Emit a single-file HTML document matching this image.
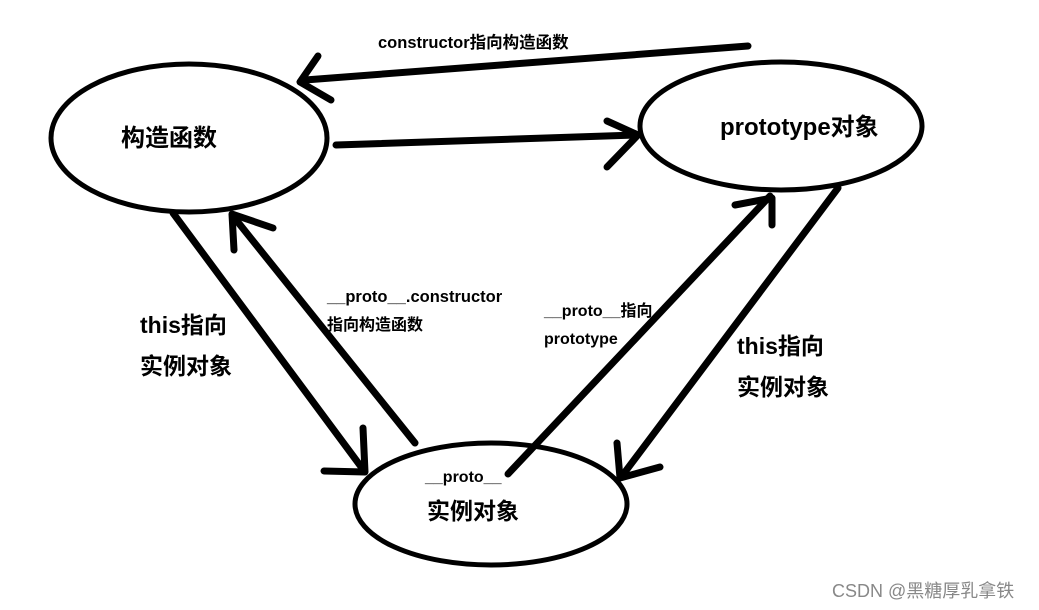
<!DOCTYPE html>
<html><head><meta charset="utf-8"><style>
html,body{margin:0;padding:0;background:#fff;}
svg{display:block;}
text{font-family:"Liberation Sans","Noto Sans CJK SC",sans-serif;font-weight:bold;fill:#000;}
</style></head><body>
<svg width="1039" height="610" viewBox="0 0 1039 610" xmlns="http://www.w3.org/2000/svg">
<g fill="none" stroke="#000" stroke-width="5">
<ellipse cx="189" cy="138" rx="138" ry="74"/>
<ellipse cx="781" cy="126" rx="141" ry="64"/>
<ellipse cx="491" cy="504" rx="136" ry="61"/>
</g>
<g fill="none" stroke="#000" stroke-width="7" stroke-linecap="round" stroke-linejoin="round">
<line x1="748" y1="46" x2="305" y2="80"/>
<polyline points="318,56 300,82 331,100"/>
<line x1="336" y1="145" x2="636" y2="135"/>
<polyline points="607,121 638,135 607,167"/>
<line x1="173" y1="213" x2="362" y2="468"/>
<polyline points="363,428 365,472 324,471"/>
<line x1="415" y1="443" x2="233" y2="216"/>
<polyline points="234,250 232,214 273,228"/>
<line x1="508" y1="474" x2="770" y2="196"/>
<polyline points="735,205 772,198 772,225"/>
<line x1="838" y1="188" x2="622" y2="476"/>
<polyline points="617,443 620,478 660,467"/>
</g>
<text x="378" y="48" font-size="16.5">constructor指向构造函数</text>
<text x="121" y="146" font-size="24">构造函数</text>
<text x="720" y="135" font-size="24">prototype对象</text>
<text x="140" y="333" font-size="23">this指向</text>
<text x="140" y="374" font-size="23">实例对象</text>
<text x="327" y="302" font-size="16.5">__proto__.constructor</text>
<text x="327" y="330" font-size="16">指向构造函数</text>
<text x="544" y="316" font-size="16">__proto__指向</text>
<text x="544" y="344" font-size="16">prototype</text>
<text x="737" y="354" font-size="23">this指向</text>
<text x="737" y="395" font-size="23">实例对象</text>
<text x="425" y="482" font-size="16">__proto__</text>
<text x="427" y="519" font-size="23">实例对象</text>
<text x="832" y="597" font-size="18" style="font-weight:normal;fill:#888">CSDN @黑糖厚乳拿铁</text>
</svg>
</body></html>
